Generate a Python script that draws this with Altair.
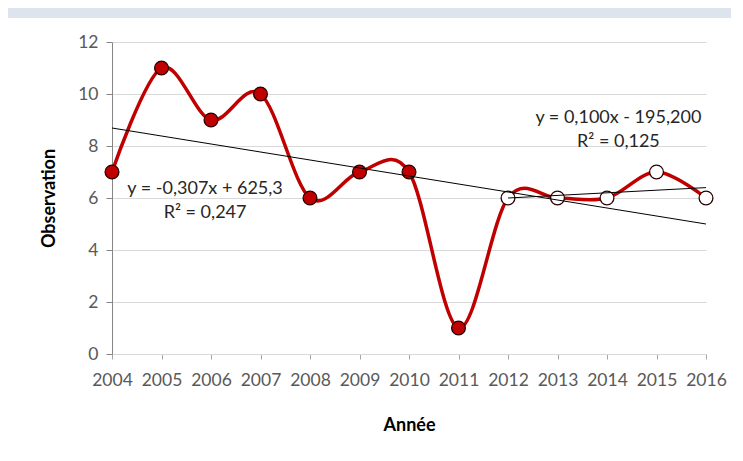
import altair as alt
import numpy as np
import pandas as pd

# ---- data ----
years = [2004, 2005, 2006, 2007, 2008, 2009, 2010, 2011, 2012, 2013, 2014, 2015, 2016]
observations = [7, 11, 9, 10, 6, 7, 7, 1, 6, 6, 6, 7, 6]
periods = ["P1"] * 8 + ["P2"] * 5          # red markers, then white markers
y_ticks = [0, 2, 4, 6, 8, 10, 12]

# trend segments (first/last year of each fitted range)
trend_ranges = [(2004, 2016), (2012, 2016)]

# annotation texts and their anchor (in data units)
ann_text = ["y = -0,307x + 625,3", "R² = 0,247", "y = 0,100x - 195,200", "R² = 0,125"]
ann_x = [2005.88, 2005.88, 2014.23, 2014.23]
ann_y = [6.35, 5.42, 9.06, 8.17]

df = pd.DataFrame({"Année": years, "Observation": observations, "periode": periods})

rows = []
for i, (a, b) in enumerate(trend_ranges):
    sub = df[(df["Année"] >= a) & (df["Année"] <= b)]
    slope, inter = np.polyfit(sub["Année"], sub["Observation"], 1)
    for xx in (a, b):
        rows.append({"seg": i, "Année": xx, "Observation": slope * xx + inter})
trend_df = pd.DataFrame(rows)
ann_df = pd.DataFrame({"t": ann_text, "x": ann_x, "y": ann_y})

W, H = 594, 312
PAD = {"left": 104, "top": 34, "right": 25, "bottom": 92}

x_scale = alt.Scale(domain=[2004, 2016], nice=False, zero=False)
y_scale = alt.Scale(domain=[0, 12], nice=False)

x_axis = alt.Axis(values=years, format="d", title="Année", grid=False,
                  labelFont="Lato", labelFontSize=17.5, labelColor="#595959",
                  labelPadding=12, tickSize=5, tickColor="#a6a6a6",
                  domainColor="#d9d9d9", titleFont="Lato", titleFontSize=18,
                  titleFontWeight="bold", titleColor="#000000", titlePadding=28,
                  labelFlush=False, labelOverlap=False)
y_axis = alt.Axis(values=y_ticks, title="Observation", grid=True, gridColor="#d9d9d9",
                  labelFont="Lato", labelFontSize=17.5, labelColor="#595959",
                  labelPadding=8, tickSize=6, tickColor="#868686",
                  domainColor="#868686", titleFont="Lato", titleFontSize=18,
                  titleFontWeight="bold", titleColor="#000000", titlePadding=19)

# blue-grey window strip above the white chart panel
strip = alt.Chart(pd.DataFrame({"a": [0]})).mark_rect(color="#dde4ee").encode(
    x=alt.value(-PAD["left"]), x2=alt.value(W + PAD["right"]),
    y=alt.value(-PAD["top"]), y2=alt.value(-PAD["top"] + 10))

base = alt.Chart(df).encode(
    x=alt.X("Année:Q", scale=x_scale, axis=x_axis),
    y=alt.Y("Observation:Q", scale=y_scale, axis=y_axis))

line = base.mark_line(interpolate="cardinal", tension=0, color="#c00000", strokeWidth=3.5)

points = base.mark_point(filled=True, size=190, opacity=1, strokeWidth=1.3, stroke="#2b0000").encode(
    fill=alt.Fill("periode:N", scale=alt.Scale(domain=["P1", "P2"], range=["#c00000", "#ffffff"]),
                  legend=None))

trend = alt.Chart(trend_df).mark_line(color="#000000", strokeWidth=1).encode(
    x=alt.X("Année:Q", scale=x_scale),
    y=alt.Y("Observation:Q", scale=y_scale),
    detail="seg:N")

labels = alt.Chart(ann_df).mark_text(font="Lato", fontSize=18, color="#262626",
                                     align="center", baseline="middle").encode(
    x=alt.X("x:Q", scale=x_scale), y=alt.Y("y:Q", scale=y_scale), text="t:N")

chart = alt.layer(base.mark_line(opacity=0), strip, line, points, trend, labels).properties(
    width=W, height=H, padding=PAD, autosize="none", background="#ffffff"
).configure_view(stroke=None)

chart.save("out.html", embed_options={"renderer": "svg", "actions": False})
